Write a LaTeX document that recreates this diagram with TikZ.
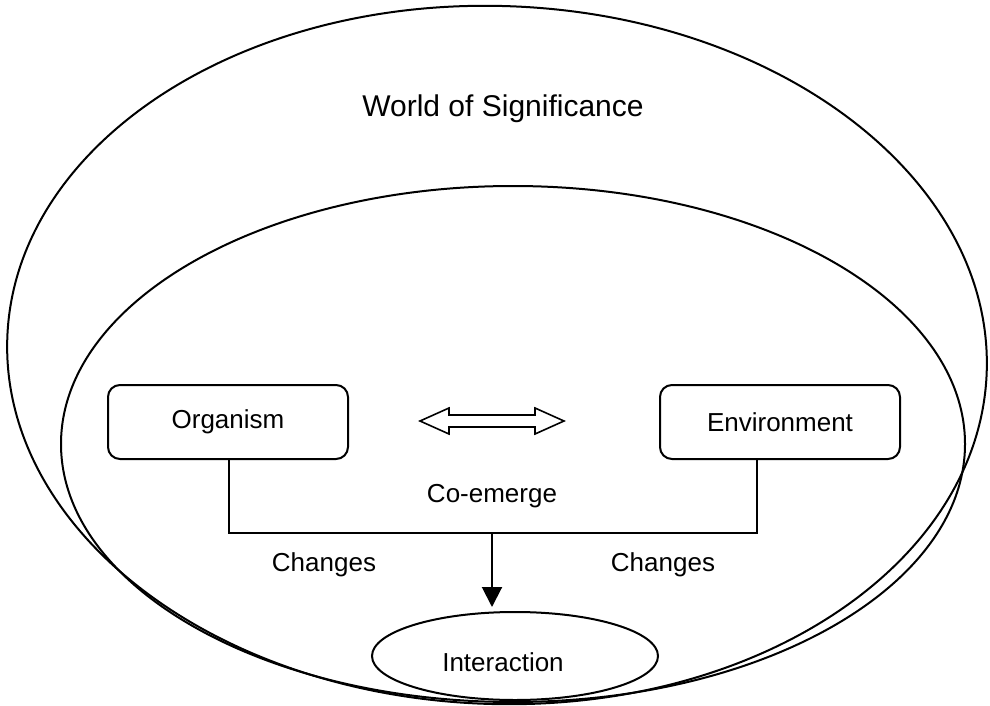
\documentclass[tikz,border=0pt]{standalone}
\usepackage{fontspec}
\setmainfont{Liberation Sans}
\usetikzlibrary{shapes.geometric,arrows.meta}

\begin{document}
\begin{tikzpicture}[x=0.5pt,y=0.5pt]
  \tikzstyle{every node}+=[inner sep=0pt,font=\fontsize{13}{15}\selectfont]
  \tikzstyle{box}=[draw,line width=1pt,rounded corners=6pt,minimum width=120pt,minimum height=37pt]
  \tikzstyle{link}=[line width=1pt]
  \useasboundingbox (0,0) rectangle (990,-706);
  \draw [line width=1pt,rotate around={-2:(497,-355)}] (497,-355) ellipse [x radius=490, y radius=349];
  \draw [line width=1pt] (513,-444) ellipse [x radius=452, y radius=258];
  \node (world) at (503,-109) {\fontsize{15}{18}\selectfont World of Significance};
  \node [box] (org) at (228,-422) {Organism};
  \node [box] (env) at (780,-422) {Environment};
  \node [draw,ellipse,line width=1pt,minimum width=143pt,minimum height=44pt] (inter) at (515,-656) {};
  \node (intertxt) at (503,-662) {Interaction};
  \draw [line width=0.8pt] (420,-421) -- (449,-408) -- (449,-415) -- (535,-415) -- (535,-408)
    -- (564,-421) -- (535,-434) -- (535,-427) -- (449,-427) -- (449,-434) -- cycle;
  \coordinate (jl) at (229,-533);
  \coordinate (jr) at (757,-533);
  \coordinate (jm) at (492,-533);
  \draw [link] (org.south -| jl) -- (jl) -- (jr) -- (env.south -| jr);
  \draw [link,-{Triangle[length=10pt,width=10pt]}] (jm) -- ([yshift=2pt]jm |- inter.north);
  \node (coemerge) at (492,-496) {Co-emerge};
  \node (chl) at (324,-565) {Changes};
  \node (chr) at (663,-565) {Changes};
\end{tikzpicture}
\end{document}
